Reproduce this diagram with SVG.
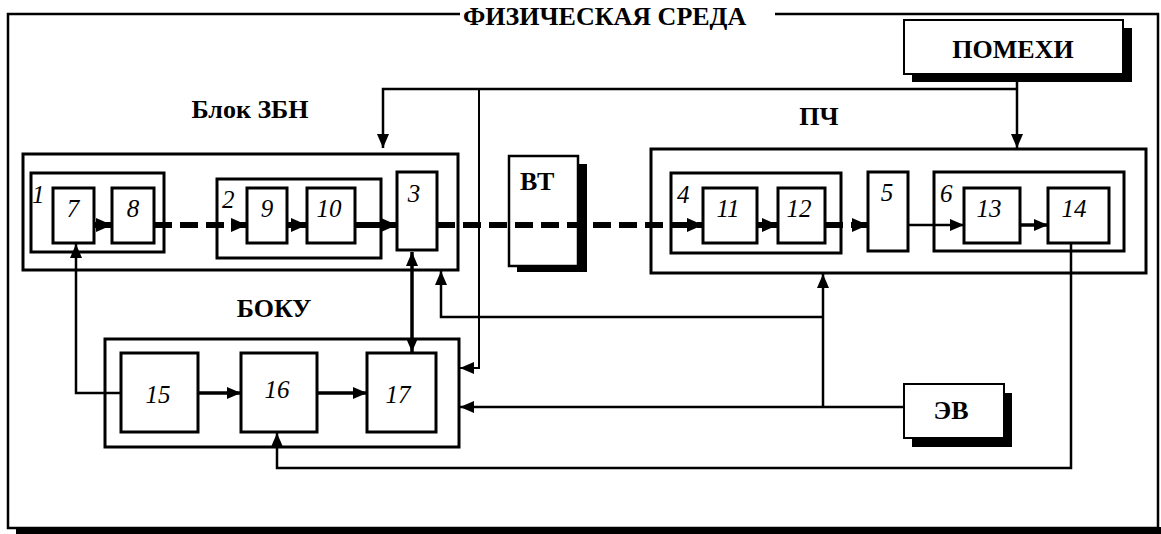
<svg xmlns="http://www.w3.org/2000/svg" width="1161" height="534" viewBox="0 0 1161 534">
<defs>
<style>
.bx{fill:#fff;stroke:#000;stroke-width:3}
.fr{fill:none;stroke:#000;stroke-width:2.5}
.sh{fill:#000}
.lbl{font-family:"Liberation Serif","Times New Roman",serif;font-weight:bold;font-size:26px;fill:#000}
.num{font-family:"Liberation Serif","Times New Roman",serif;font-style:italic;font-size:25px;fill:#000}
.w{fill:none;stroke:#000;stroke-width:2.5}
.tk{fill:none;stroke:#000;stroke-width:6}
.ds{stroke-dasharray:18 8}
.md{fill:none;stroke:#000;stroke-width:3.5}
</style>
<marker id="ah" viewBox="0 0 14 12" refX="14" refY="6" markerWidth="14" markerHeight="12" markerUnits="userSpaceOnUse" orient="auto-start-reverse">
<path d="M0,0 L14,6 L0,12 z" fill="#000"/>
</marker>
<marker id="ahb" viewBox="0 0 16 14" refX="16" refY="7" markerWidth="16" markerHeight="14" markerUnits="userSpaceOnUse" orient="auto">
<path d="M0,0 L16,7 L0,14 z" fill="#000"/>
</marker>
</defs>

<g id="frame">
<rect class="sh" x="16" y="527" width="1145" height="7"/>
<path class="fr" d="M460,14 H8 V528 H1158 V14 H775"/>
<text class="lbl" x="463" y="25">ФИЗИЧЕСКАЯ СРЕДА</text>
</g>

<g id="pomehi">
<rect class="sh" x="912" y="28" width="220" height="54"/>
<rect class="bx" x="904" y="20" width="219" height="54" style="stroke-width:2"/>
<text class="lbl" x="1013" y="58" text-anchor="middle">ПОМЕХИ</text>
</g>

<g id="zbn">
<text class="lbl" x="250" y="118" text-anchor="middle">Блок ЗБН</text>
<rect class="bx" x="23" y="154" width="435" height="116"/>
</g>
<g id="b1">
<rect class="bx" x="31" y="173" width="133" height="79"/>
<text class="num" x="32" y="203">1</text>
</g>
<g id="b7"><rect class="bx" x="53" y="188" width="41" height="55"/><text class="num" x="73" y="217" text-anchor="middle">7</text></g>
<g id="b8"><rect class="bx" x="112" y="188" width="42" height="55"/><text class="num" x="133" y="217" text-anchor="middle">8</text></g>
<g id="b2">
<rect class="bx" x="217" y="179" width="164" height="79"/>
<text class="num" x="222" y="208">2</text>
</g>
<g id="b9"><rect class="bx" x="247" y="188" width="40" height="55"/><text class="num" x="267" y="217" text-anchor="middle">9</text></g>
<g id="b10"><rect class="bx" x="307" y="188" width="48" height="55"/><text class="num" x="329" y="217" text-anchor="middle">10</text></g>
<g id="b3"><rect class="bx" x="397" y="172" width="40" height="78"/><text class="num" x="414" y="202" text-anchor="middle">3</text></g>

<g id="vt">
<rect class="sh" x="517" y="164" width="70" height="108"/>
<rect class="bx" x="509" y="156" width="69" height="110" style="stroke-width:2.5"/>
<text class="lbl" x="520" y="190">ВТ</text>
</g>

<g id="pch">
<text class="lbl" x="819" y="125" text-anchor="middle">ПЧ</text>
<rect class="bx" x="651" y="149" width="495" height="124"/>
</g>
<g id="b4">
<rect class="bx" x="671" y="173" width="170" height="80"/>
<text class="num" x="677" y="203">4</text>
</g>
<g id="b11"><rect class="bx" x="703" y="188" width="54" height="55"/><text class="num" x="728" y="217" text-anchor="middle">11</text></g>
<g id="b12"><rect class="bx" x="778" y="188" width="47" height="55"/><text class="num" x="799" y="217" text-anchor="middle">12</text></g>
<g id="b5"><rect class="bx" x="868" y="172" width="40" height="79"/><text class="num" x="887" y="201" text-anchor="middle">5</text></g>
<g id="b6">
<rect class="bx" x="934" y="172" width="190" height="79"/>
<text class="num" x="940" y="202">6</text>
</g>
<g id="b13"><rect class="bx" x="964" y="188" width="56" height="55"/><text class="num" x="989" y="217" text-anchor="middle">13</text></g>
<g id="b14"><rect class="bx" x="1048" y="188" width="61" height="55"/><text class="num" x="1074" y="217" text-anchor="middle">14</text></g>

<g id="boku">
<text class="lbl" x="274" y="317" text-anchor="middle">БОКУ</text>
<rect class="bx" x="105" y="339" width="354" height="108"/>
</g>
<g id="b15"><rect class="bx" x="121" y="353" width="77" height="79"/><text class="num" x="158" y="403" text-anchor="middle">15</text></g>
<g id="b16"><rect class="bx" x="241" y="353" width="76" height="79"/><text class="num" x="277" y="398" text-anchor="middle">16</text></g>
<g id="b17"><rect class="bx" x="367" y="353" width="69" height="79"/><text class="num" x="398" y="403" text-anchor="middle">17</text></g>

<g id="ev">
<rect class="sh" x="912" y="393" width="100" height="54"/>
<rect class="bx" x="904" y="384" width="100" height="54" style="stroke-width:2"/>
<text class="lbl" x="951" y="419" text-anchor="middle">ЭВ</text>
</g>

<g id="connectors">
<path class="w" d="M1017,74 V148" marker-end="url(#ah)"/>
<path class="w" d="M1017,89 H383 V148" marker-end="url(#ah)"/>
<path class="w" d="M479,89 V368 H460" marker-end="url(#ah)" style="stroke-width:2"/>

<path class="tk" d="M94,225 H112" marker-end="url(#ahb)"/>
<path class="tk ds" d="M154,225 H247" marker-end="url(#ahb)"/>
<path class="tk" d="M287,225 H307" marker-end="url(#ahb)"/>
<path class="tk" d="M355,225 H397" marker-end="url(#ahb)"/>
<path class="tk ds" d="M437,225 H703" marker-end="url(#ahb)"/>
<path class="tk" d="M757,225 H778" marker-end="url(#ahb)"/>
<path class="tk ds" d="M825,225 H868" marker-end="url(#ahb)"/>
<path class="w" d="M908,225 H964" marker-end="url(#ah)"/>
<path class="md" d="M1020,225 H1048" marker-end="url(#ah)"/>

<path class="md" d="M412,252 V352" marker-start="url(#ah)" marker-end="url(#ah)"/>
<path class="w" d="M904,407 H460" marker-end="url(#ah)"/>
<path class="w" d="M823,407 V274" marker-end="url(#ah)"/>
<path class="w" d="M823,317 H441 V271" marker-end="url(#ah)"/>
<path class="w" d="M1071,243 V468 H277 V433" marker-end="url(#ah)"/>
<path class="w" d="M121,393 H76 V244" marker-end="url(#ah)"/>
<path class="md" d="M198,393 H241" marker-end="url(#ah)"/>
<path class="md" d="M317,393 H367" marker-end="url(#ah)"/>
</g>
</svg>
